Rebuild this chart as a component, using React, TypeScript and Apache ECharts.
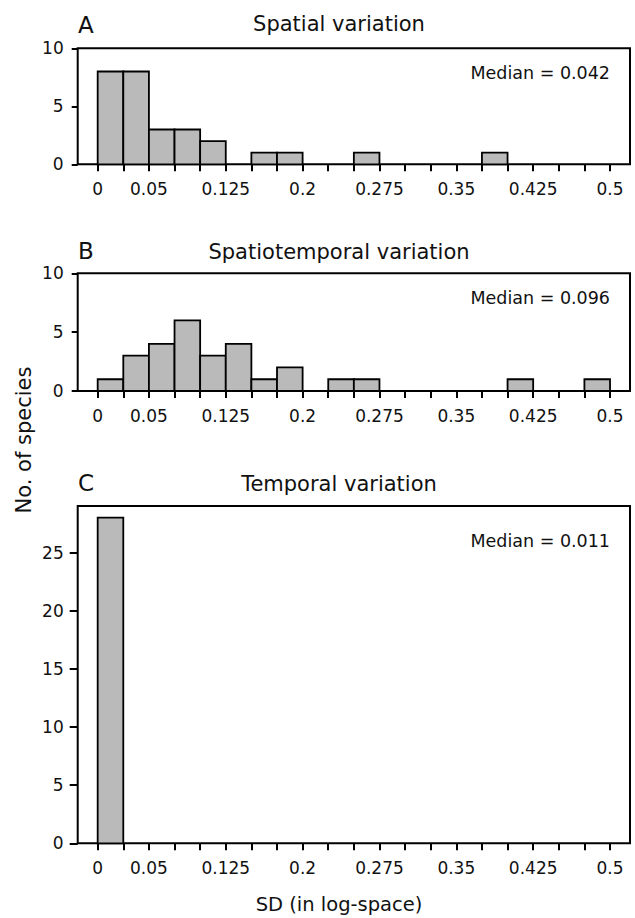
import React, { useEffect, useRef } from "react";
import * as echarts from "echarts";

// Bin edges (SD in log-space), bin width 0.025
const binEdges = [
  0, 0.025, 0.05, 0.075, 0.1, 0.125, 0.15, 0.175, 0.2, 0.225, 0.25, 0.275,
  0.3, 0.325, 0.35, 0.375, 0.4, 0.425, 0.45, 0.475, 0.5,
];
const xTickLabels = [0, 0.05, 0.125, 0.2, 0.275, 0.35, 0.425, 0.5];

// Counts per bin (No. of species)
const spatialCounts = [8, 8, 3, 3, 2, 0, 1, 1, 0, 0, 1, 0, 0, 0, 0, 1, 0, 0, 0, 0];
const spatiotemporalCounts = [1, 3, 4, 6, 3, 4, 1, 2, 0, 1, 1, 0, 0, 0, 0, 0, 1, 0, 0, 1];
const temporalCounts = [28, 0, 0, 0, 0, 0, 0, 0, 0, 0, 0, 0, 0, 0, 0, 0, 0, 0, 0, 0];

const panelLetters = ["A", "B", "C"];
const panelTitles = ["Spatial variation", "Spatiotemporal variation", "Temporal variation"];
const medians = ["Median = 0.042", "Median = 0.096", "Median = 0.011"];
const yTicksSmall = [0, 5, 10];
const yTicksLarge = [0, 5, 10, 15, 20, 25];

const FONT = "DejaVu Sans";

export default function App() {
  const ref = useRef<HTMLDivElement>(null);

  useEffect(() => {
    document.body.style.margin = "0";
    if (!ref.current) return;
    const chart = echarts.init(ref.current, undefined, { renderer: "svg" });

    const grids = [
      { left: 77.7, right: 5, top: 48.3, height: 116 },
      { left: 77.7, right: 5, top: 273.3, height: 117.7 },
      { left: 77.7, right: 5, top: 506, height: 337.3 },
    ];
    const yMax = [10, 10, 29];
    const yTicks = [yTicksSmall, yTicksSmall, yTicksLarge];
    const counts = [spatialCounts, spatiotemporalCounts, temporalCounts];
    const letterY = [25, 251, 483.5];
    const titleY = [24, 252, 483.5];
    const medianY = [72.5, 297.5, 540.5];

    const fmt = (v: number) => String(+Number(v).toFixed(3));

    const option: any = {
      animation: false,
      grid: grids.map((g) => ({
        ...g,
        show: true,
        borderColor: "#000",
        borderWidth: 2,
        backgroundColor: "transparent",
      })),
      xAxis: grids.map((_, i) => ({
        type: "value",
        gridIndex: i,
        min: -0.0195,
        max: 0.5195,
        axisLine: { show: false, onZero: false },
        splitLine: { show: false },
        axisTick: {
          show: true,
          inside: false,
          length: 7,
          customValues: binEdges,
          lineStyle: { color: "#000", width: 2 },
        },
        axisLabel: {
          customValues: xTickLabels,
          formatter: fmt,
          color: "#111",
          fontFamily: FONT,
          fontSize: 17,
          margin: 16,
        },
      })),
      yAxis: grids.map((_, i) => ({
        type: "value",
        gridIndex: i,
        min: 0,
        max: yMax[i],
        axisLine: { show: false, onZero: false },
        splitLine: { show: false },
        axisTick: {
          show: true,
          inside: false,
          length: i === 2 ? 8 : 6,
          customValues: yTicks[i],
          lineStyle: { color: "#000", width: 2 },
        },
        axisLabel: {
          customValues: yTicks[i],
          color: "#111",
          fontFamily: FONT,
          fontSize: 17,
          margin: 14,
        },
      })),
      series: counts.map((arr, i) => ({
        type: "custom",
        xAxisIndex: i,
        yAxisIndex: i,
        encode: { x: [0, 1], y: 2 },
        data: arr.map((c, k) => [binEdges[k], binEdges[k + 1], c]),
        renderItem: (_params: any, api: any) => {
          const x0 = api.value(0);
          const x1 = api.value(1);
          const v = api.value(2);
          if (!v) return null;
          const p0 = api.coord([x0, v]);
          const p1 = api.coord([x1, 0]);
          return {
            type: "rect",
            shape: { x: p0[0], y: p0[1], width: p1[0] - p0[0], height: p1[1] - p0[1] },
            style: { fill: "#bababa", stroke: "#000", lineWidth: 1.8 },
          };
        },
        z: 1,
      })),
      graphic: [
        ...panelLetters.map((t, i) => ({
          type: "text",
          left: 78,
          top: letterY[i] - 12,
          style: { text: t, fontFamily: FONT, fontSize: 23, fill: "#111" },
        })),
        ...panelTitles.map((t, i) => ({
          type: "text",
          x: 339,
          y: titleY[i],
          style: {
            text: t,
            fontFamily: FONT,
            fontSize: 21,
            fill: "#111",
            align: "center",
            verticalAlign: "middle",
          },
        })),
        ...medians.map((t, i) => ({
          type: "text",
          x: 610,
          y: medianY[i],
          style: {
            text: t,
            fontFamily: FONT,
            fontSize: 17.5,
            fill: "#111",
            align: "right",
            verticalAlign: "middle",
          },
        })),
        {
          type: "text",
          x: 24,
          y: 440,
          rotation: Math.PI / 2,
          style: {
            text: "No. of species",
            fontFamily: FONT,
            fontSize: 21,
            fill: "#111",
            align: "center",
            verticalAlign: "middle",
          },
        },
        {
          type: "text",
          x: 339,
          y: 904,
          style: {
            text: "SD (in log-space)",
            fontFamily: FONT,
            fontSize: 19.5,
            fill: "#111",
            align: "center",
            verticalAlign: "middle",
          },
        },
      ],
    };

    chart.setOption(option);
    return () => chart.dispose();
  }, []);

  return <div ref={ref} style={{ width: 635, height: 918 }} />;
}
